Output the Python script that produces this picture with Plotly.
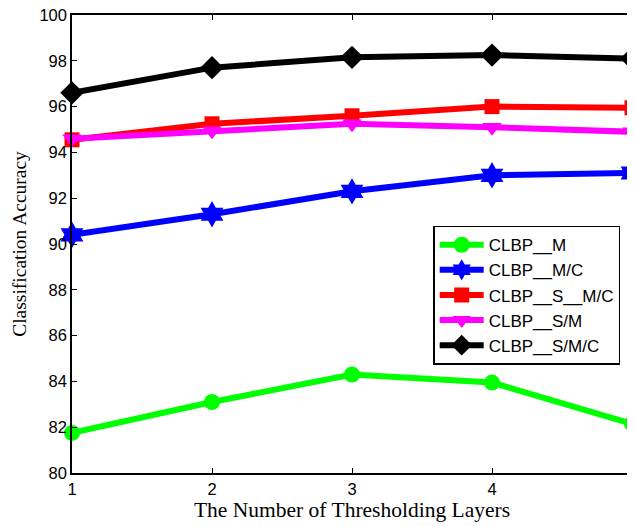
import plotly.graph_objects as go

layers = [1, 2, 3, 4, 5]
clbp_m = [81.75, 83.1, 84.3, 83.95, 82.15]
clbp_mc = [90.4, 91.3, 92.3, 93.0, 93.1]
clbp_s_mc = [94.55, 95.25, 95.6, 96.0, 95.95]
clbp_sm = [94.6, 94.95, 95.25, 95.1, 94.9]
clbp_smc = [96.6, 97.7, 98.15, 98.25, 98.1]

names = ["CLBP__M", "CLBP__M/C", "CLBP__S__M/C", "CLBP__S/M", "CLBP__S/M/C"]
series = [clbp_m, clbp_mc, clbp_s_mc, clbp_sm, clbp_smc]
colors = ["#00ff00", "#0000ff", "#ff0000", "#ff00ff", "#000000"]
symbols = ["circle", "hexagram", "square", "triangle-down", "diamond"]
sizes = [16, 20, 15, 17, 18]

fig = go.Figure()
for n, s, c, sym, sz in zip(names, series, colors, symbols, sizes):
    fig.add_trace(go.Scatter(
        x=layers, y=s, name=n, mode="lines+markers",
        line=dict(color=c, width=6),
        marker=dict(symbol=sym, size=sz, color=c, line=dict(width=0)),
        cliponaxis=False,
    ))

axis_common = dict(
    showline=True, linecolor="black", linewidth=1.5, mirror="ticks",
    ticks="inside", ticklen=5, tickcolor="black", showgrid=False, zeroline=False,
    automargin=False, ticklabeloverflow="allow",
    tickfont=dict(family="Liberation Sans, Arial", size=16.5, color="black"),
)
fig.update_xaxes(range=[1, 5], tickvals=layers, **axis_common,
                 title=dict(text="The Number of Thresholding Layers",
                            font=dict(family="Liberation Serif, Times New Roman", size=21.5, color="black"),
                            standoff=4))
fig.update_yaxes(range=[80, 100], tickvals=list(range(80, 101, 2)), **axis_common,
                 title=dict(text="Classification Accuracy",
                            font=dict(family="Liberation Serif, Times New Roman", size=19.5, color="black"),
                            standoff=8))

# page body has an 8px default margin, so the figure is sized/offset to compensate
fig.update_layout(
    width=627, height=518,
    margin=dict(l=64, r=3, t=7, b=53),
    plot_bgcolor="white", paper_bgcolor="white",
    legend=dict(x=0.645, y=0.54, xanchor="left", yanchor="top",
                bgcolor="white", bordercolor="black", borderwidth=1.5,
                font=dict(family="Liberation Sans, Arial", size=17, color="black"),
                tracegroupgap=0, itemwidth=44),
    showlegend=True,
)

fig.write_html("out.html")
